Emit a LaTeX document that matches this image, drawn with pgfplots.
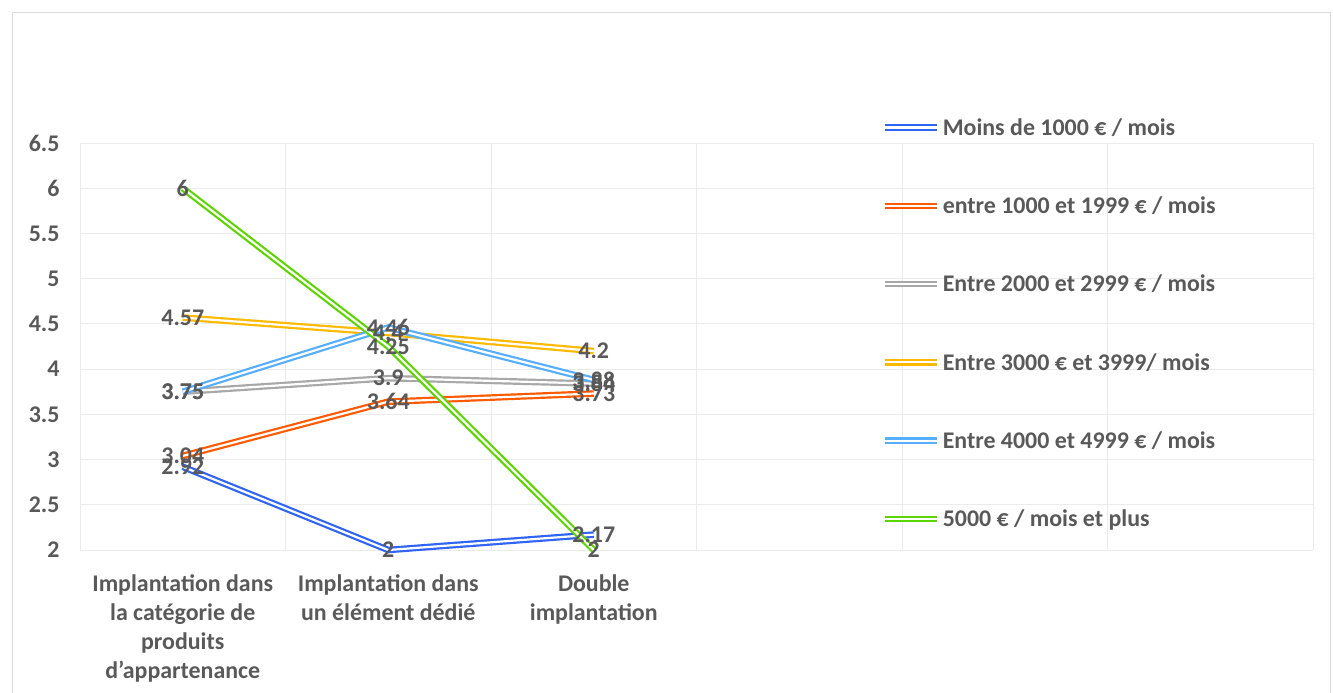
\documentclass[border=0pt]{standalone}
\usepackage{fontspec}
\setmainfont{Carlito}
\usepackage{pgfplots}
\pgfplotsset{compat=1.18}
\definecolor{txt}{HTML}{595959}
\definecolor{gridc}{HTML}{EBEBEB}
\definecolor{framec}{HTML}{D9D9D9}
\definecolor{c1}{HTML}{2F64F5}
\definecolor{c2}{HTML}{FF5A00}
\definecolor{c3}{HTML}{A8A8A8}
\definecolor{c4}{HTML}{FFBA00}
\definecolor{c5}{HTML}{55AEFF}
\definecolor{c6}{HTML}{5CD600}
\begin{document}
\begin{tikzpicture}
\path[use as bounding box] (0,0) rectangle (1333bp,693bp);
\draw[color=framec, line width=0.8bp] (12bp,0bp) -- (12bp,681bp) -- (1330bp,681bp) -- (1330bp,0bp);
\begin{axis}[
  at={(80bp,143bp)}, anchor=south west,
  scale only axis, width=1233bp, height=407bp,
  xmin=-0.5, xmax=5.5, ymin=2, ymax=6.5,
  xtick={0,1,2},
  xticklabels={{Implantation dans\\la catégorie de\\produits\\d'appartenance},{Implantation dans\\un élément dédié},{Double\\implantation}},
  ytick={2,2.5,3,3.5,4,4.5,5,5.5,6,6.5},
  minor xtick={-0.5,0.5,1.5,2.5,3.5,4.5,5.5},
  xminorgrids, ymajorgrids,
  grid style={draw=gridc, line width=0.9bp},
  minor grid style={draw=gridc, line width=0.9bp},
  axis line style={draw=none},
  major tick length=0pt, minor tick length=0pt,
  /pgf/number format/assume math mode=true,
  tick label style={font=\fontsize{24}{29}\selectfont\bfseries, text=txt},
  xticklabel style={align=center, yshift=-21bp},
  yticklabel style={xshift=-17bp},
  clip=false,
  legend style={at={(0.648,1.0706)}, anchor=north west, draw=none, fill=none,
    font=\fontsize{24}{29}\selectfont\bfseries, text=txt, row sep=56bp},
  legend cell align=left,
  legend image code/.code={\draw[#1] (0bp,0bp) -- (52bp,0bp);},
  nodes near coords,
  every node near coord/.append style={anchor=center, font=\fontsize{24}{29}\selectfont\bfseries, text=txt},
  every axis plot/.append style={double=white, double distance=2.2bp, line width=2.2bp},
]
\addplot[draw=c1] coordinates {(0,2.92) (1,2) (2,2.17)};
\addlegendentry{Moins de 1000 € / mois}
\addplot[draw=c2] coordinates {(0,3.04) (1,3.64) (2,3.73)};
\addlegendentry{entre 1000 et 1999 € / mois}
\addplot[draw=c3] coordinates {(0,3.75) (1,3.9) (2,3.84)};
\addlegendentry{Entre 2000 et 2999 € / mois}
\addplot[draw=c4] coordinates {(0,4.57) (1,4.4) (2,4.2)};
\addlegendentry{Entre 3000 € et 3999/ mois}
\addplot[draw=c5] coordinates {(0,3.75) (1,4.46) (2,3.88)};
\addlegendentry{Entre 4000 et 4999 € / mois}
\addplot[draw=c6] coordinates {(0,6) (1,4.25) (2,2)};
\addlegendentry{5000 € / mois et plus}
\end{axis}
\end{tikzpicture}
\end{document}
